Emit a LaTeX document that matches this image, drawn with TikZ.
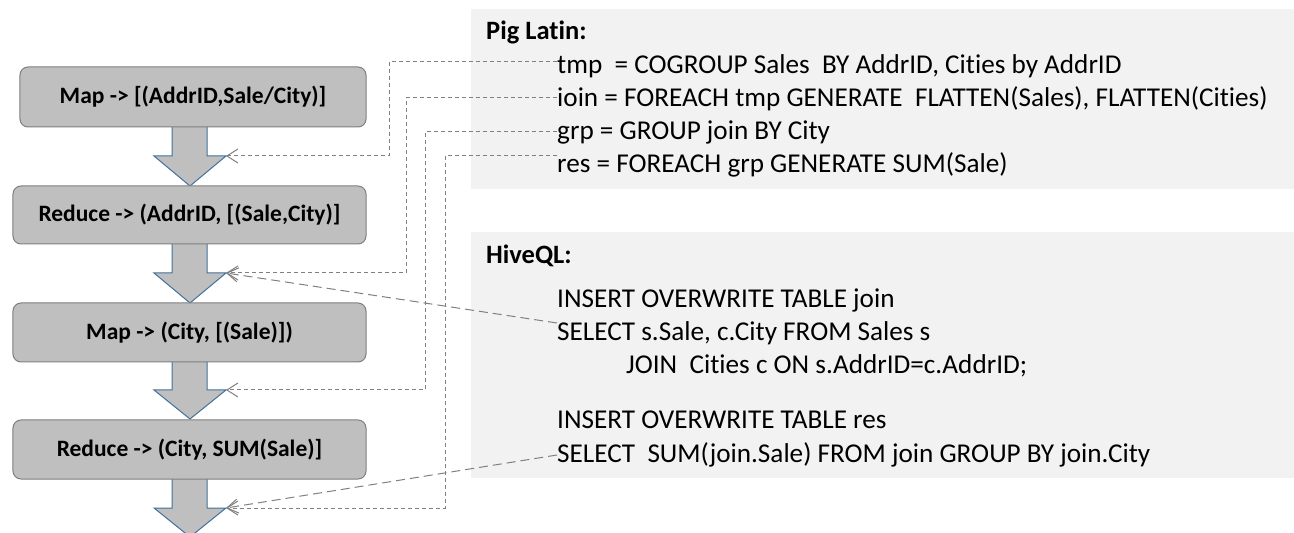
\documentclass[tikz,border=0pt]{standalone}
\usepackage{fontspec}
\setmainfont{Carlito}[Ligatures={NoCommon}]
\usetikzlibrary{arrows.meta,calc}
\definecolor{boxfill}{HTML}{BFBFBF}
\definecolor{boxline}{HTML}{7F7F7F}
\definecolor{arrowline}{HTML}{41719C}
\definecolor{panelfill}{HTML}{F2F2F2}
\definecolor{dashgray}{HTML}{808080}
\begin{document}
\begin{tikzpicture}[x=1bp,y=-1bp,
  mrbox/.style={draw=boxline, fill=boxfill, rounded corners=8bp, line width=1bp, inner sep=0pt,
    font=\fontsize{23.5bp}{28bp}\selectfont\bfseries},
  flowarrow/.style={draw=arrowline, fill=boxfill, line width=1bp, line join=miter},
  panel/.style={fill=panelfill, draw=none},
  codeline/.style={anchor=base west, inner sep=0pt, font=\fontsize{27.2bp}{32bp}\selectfont},
  headline/.style={anchor=base west, inner sep=0pt, font=\fontsize{26.5bp}{32bp}\selectfont\bfseries},
  pigline/.style={draw=dashgray, line width=1bp, dash pattern=on 4bp off 3bp,
    -{Straight Barb[length=11bp,width=14bp]}},
  hiveline/.style={draw=dashgray, line width=1bp, dash pattern=on 9bp off 5bp,
    -{Straight Barb[length=11bp,width=14bp]}}
]
\useasboundingbox (0,0) rectangle (1294,533);

% text panels
\fill[panel] (471,9) rectangle (1294,189);
\fill[panel] (471,232) rectangle (1294,478);

% block arrows (drawn under the boxes)
\draw[flowarrow] (172,120) -- (172,156) -- (154,156) -- (190,186) -- (226,156) -- (207,156) -- (207,120) -- cycle;
\draw[flowarrow] (172,238) -- (172,273) -- (154,273) -- (190,303) -- (226,273) -- (207,273) -- (207,238) -- cycle;
\draw[flowarrow] (172,355) -- (172,390) -- (154,390) -- (190,419) -- (226,390) -- (207,390) -- (207,355) -- cycle;
\draw[flowarrow] (172,472) -- (172,508) -- (154,508) -- (190,537) -- (226,508) -- (207,508) -- (207,472) -- cycle;
\coordinate (h1) at (226,156);
\coordinate (h2) at (226,273);
\coordinate (h3) at (226,390);
\coordinate (h4) at (226,508);

% MapReduce boxes
\node[mrbox, minimum width=346bp, minimum height=60bp] (b1) at (193,97) {Map -> [(AddrID,Sale/City)]};
\node[mrbox, minimum width=353bp, minimum height=58bp] (b2) at (189.5,215) {Reduce -> (AddrID, [(Sale,City)]};
\node[mrbox, minimum width=353bp, minimum height=59bp] (b3) at (189.5,332.5) {Map -> (City, [(Sale)])};
\node[mrbox, minimum width=353bp, minimum height=59bp] (b4) at (189.5,449.5) {Reduce -> (City, SUM(Sale)]};

% Pig Latin
\node[headline] (pig) at (486,40) {Pig Latin:};
\node[codeline] (p1) at (557,74) {tmp\ \ = COGROUP Sales\ \ BY AddrID, Cities by AddrID};
\node[codeline] (p2) at (557,107) {ioin = FOREACH tmp GENERATE\ \ FLATTEN(Sales), FLATTEN(Cities)};
\node[codeline] (p3) at (557,140) {grp = GROUP join BY City};
\node[codeline] (p4) at (557,173) {res = FOREACH grp GENERATE SUM(Sale)};

% HiveQL
\node[headline] (hive) at (486,264) {HiveQL:};
\node[codeline] (q1) at (557,308) {INSERT OVERWRITE TABLE join};
\node[codeline] (q2) at (557,341) {SELECT s.Sale, c.City FROM Sales s};
\node[codeline] (q3) at (626,374) {JOIN\ \ Cities c ON s.AddrID=c.AddrID;};
\node[codeline] (q4) at (557,428) {INSERT OVERWRITE TABLE res};
\node[codeline] (q5) at (557,462) {SELECT\ \ SUM(join.Sale) FROM join GROUP BY join.City};

% connectors
\coordinate (k1) at (389,156);
\coordinate (k2) at (406,273);
\coordinate (k3) at (425,390);
\coordinate (k4) at (445,508);
\draw[pigline] ($(p1.base west)+(0,-12)$) -| (k1) -- (h1);
\draw[pigline] ($(p2.base west)+(0,-9)$) -| (k2) -- (h2);
\draw[pigline] ($(p3.base west)+(0,-8)$) -| (k3) -- (h3);
\draw[pigline] ($(p4.base west)+(0,-17)$) -| (k4) -- (h4);
\draw[hiveline] ($(q2.base west)+(0,-18)$) -- (h2);
\draw[hiveline] ($(q5.base west)+(0,-7)$) -- (h4);
\end{tikzpicture}
\end{document}
